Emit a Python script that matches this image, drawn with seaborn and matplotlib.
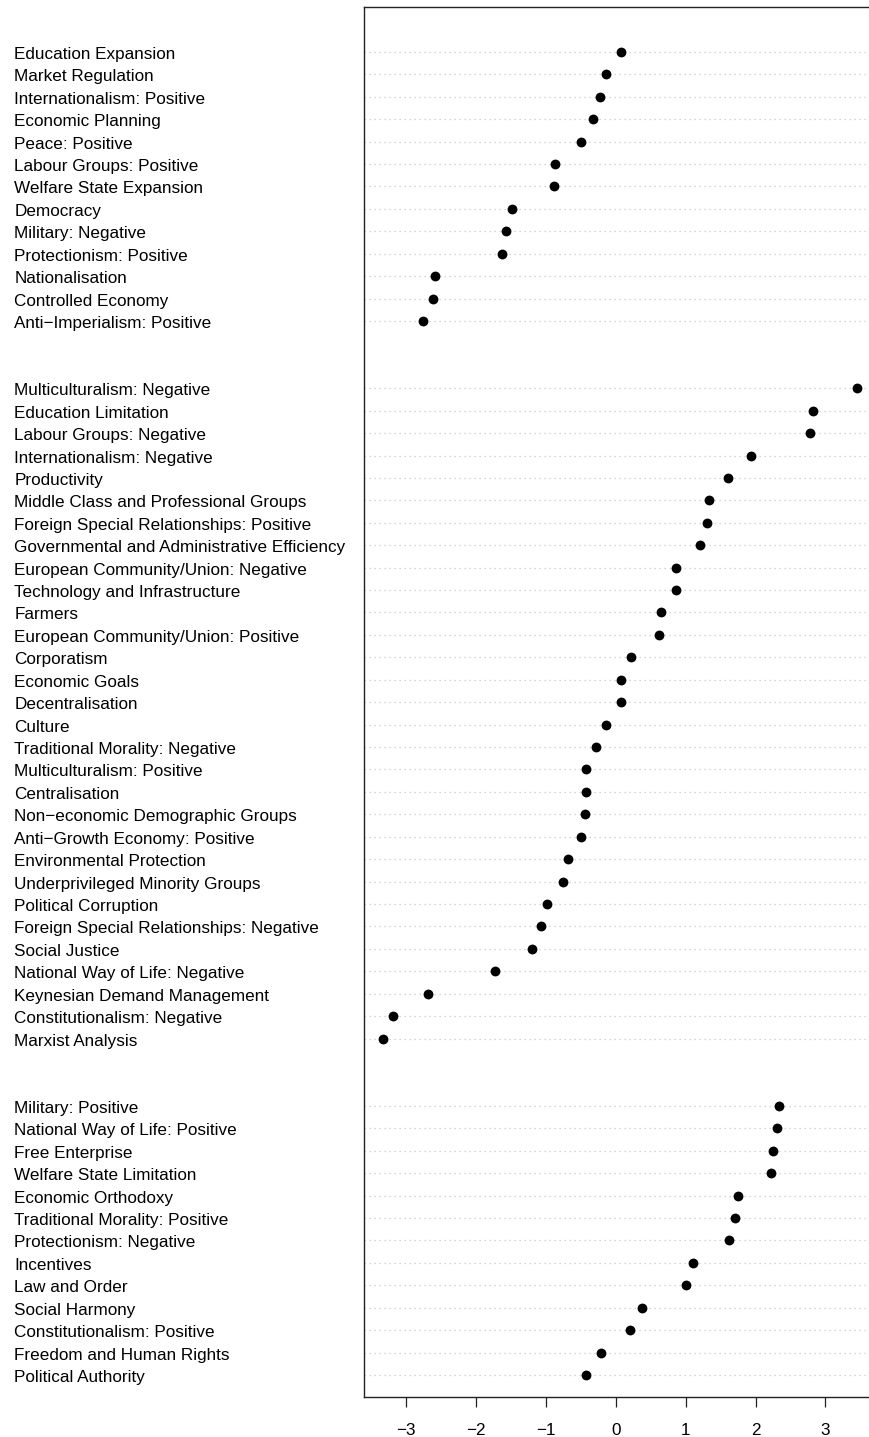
import numpy as np
import pandas as pd
import matplotlib
matplotlib.use("Agg")
import matplotlib.pyplot as plt
import matplotlib.transforms as mtransforms
import seaborn as sns

# Category groups, top to bottom as drawn
left_labels = [
    "Education Expansion", "Market Regulation", "Internationalism: Positive",
    "Economic Planning", "Peace: Positive", "Labour Groups: Positive",
    "Welfare State Expansion", "Democracy", "Military: Negative",
    "Protectionism: Positive", "Nationalisation", "Controlled Economy",
    "Anti\u2212Imperialism: Positive",
]
left_values = [0.076, -0.143, -0.22, -0.325, -0.50, -0.864, -0.887,
               -1.479, -1.574, -1.627, -2.585, -2.614, -2.761]

other_labels = [
    "Multiculturalism: Negative", "Education Limitation", "Labour Groups: Negative",
    "Internationalism: Negative", "Productivity", "Middle Class and Professional Groups",
    "Foreign Special Relationships: Positive", "Governmental and Administrative Efficiency",
    "European Community/Union: Negative", "Technology and Infrastructure", "Farmers",
    "European Community/Union: Positive", "Corporatism", "Economic Goals",
    "Decentralisation", "Culture", "Traditional Morality: Negative",
    "Multiculturalism: Positive", "Centralisation", "Non\u2212economic Demographic Groups",
    "Anti\u2212Growth Economy: Positive", "Environmental Protection",
    "Underprivileged Minority Groups", "Political Corruption",
    "Foreign Special Relationships: Negative", "Social Justice",
    "National Way of Life: Negative", "Keynesian Demand Management",
    "Constitutionalism: Negative", "Marxist Analysis",
]
other_values = [3.448, 2.827, 2.780, 1.936, 1.607, 1.330, 1.311, 1.202, 0.867,
                0.863, 0.648, 0.624, 0.219, 0.080, 0.076, -0.139, -0.277, -0.425,
                -0.429, -0.435, -0.496, -0.682, -0.758, -0.987, -1.069, -1.197,
                -1.722, -2.680, -3.181, -3.333]

right_labels = [
    "Military: Positive", "National Way of Life: Positive", "Free Enterprise",
    "Welfare State Limitation", "Economic Orthodoxy", "Traditional Morality: Positive",
    "Protectionism: Negative", "Incentives", "Law and Order", "Social Harmony",
    "Constitutionalism: Positive", "Freedom and Human Rights", "Political Authority",
]
right_values = [2.336, 2.312, 2.250, 2.222, 1.745, 1.702, 1.621, 1.110, 1.001,
                0.381, 0.205, -0.210, -0.429]

x_ticks = [-3, -2, -1, 0, 1, 2, 3]
x_tick_labels = ["\u22123", "\u22122", "\u22121", "0", "1", "2", "3"]

# Row positions: groups stacked from the bottom with a two-row gap
groups = [(left_labels, left_values), (other_labels, other_values),
          (right_labels, right_values)]
rows = []
pos = 0
for labels, values in reversed(groups):
    n = len(labels)
    ys = np.arange(pos + n, pos, -1)
    for lab, val, y in zip(labels, values, ys):
        rows.append({"label": lab, "value": val, "y": y})
    pos += n + 2
df = pd.DataFrame(rows)
y_top = pos  # one extra row above the top group

sns.set_theme(style="white")
plt.rcParams["font.family"] = ["Liberation Sans", "DejaVu Sans"]

W, H, DPI = 870, 1437, 100
fig = plt.figure(figsize=(W / DPI, H / DPI), dpi=DPI)
left_px, right_px, top_px, bottom_px = 364, 900, 7, 1397.4
px_per_unit = 69.9
x_lo = -3.602
x_hi = x_lo + (right_px - left_px) / px_per_unit
ax = fig.add_axes([left_px / W, 1 - bottom_px / H,
                   (right_px - left_px) / W, (bottom_px - top_px) / H])

for y in df["y"]:
    ax.axhline(y, color="#c8c8c8", linestyle=(0, (1, 3)), linewidth=0.9, zorder=1)

sns.scatterplot(data=df, x="value", y="y", ax=ax, color="black", s=50,
                linewidth=0, zorder=3, legend=False)

ax.set_xlim(x_lo, x_hi)
ax.set_ylim(0, y_top)
ax.set_xticks(x_ticks)
ax.set_xticklabels(x_tick_labels, fontsize=12.3)
ax.set_yticks([])
ax.set_xlabel("")
ax.set_ylabel("")
ax.tick_params(axis="x", direction="out", length=7.5, width=0.9, color="#222222",
               pad=11, bottom=True, labelcolor="black")
for side in ["left", "top", "bottom"]:
    ax.spines[side].set_color("#222222")
    ax.spines[side].set_linewidth(1.0)
ax.spines["right"].set_visible(False)

# Category names, left-aligned in the margin
trans = mtransforms.blended_transform_factory(fig.transFigure, ax.transData)
trans = mtransforms.offset_copy(trans, fig=fig, y=-7, units="dots")
for lab, y in zip(df["label"], df["y"]):
    ax.text(14.5 / W, y, lab, transform=trans, ha="left", va="baseline",
            fontsize=12.3, color="black", clip_on=False)

fig.savefig("out.png", dpi=DPI)
